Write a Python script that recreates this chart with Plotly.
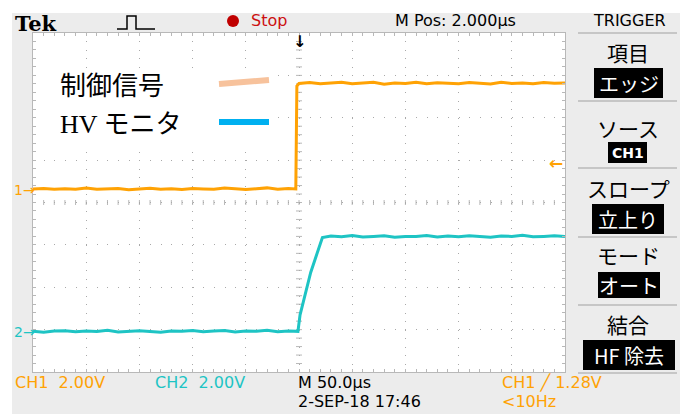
import plotly.graph_objects as go

# ---------------- data ----------------
ch1_time_us = [-250, -240, -230, -220, -210, -200, -190, -180, -170, -160,
               -150, -140, -130, -120, -110, -100, -90, -80, -70, -60,
               -50, -40, -30, -20, -10, -3, -2, 0, 10, 20,
               30, 40, 50, 60, 70, 80, 90, 100, 110, 120,
               130, 140, 150, 160, 170, 180, 190, 200, 210, 220,
               230, 240, 250]
ch1_volts = [0.04, 0.06, 0.02, 0.05, 0.03, 0.08, 0.02, 0.04, 0.06, 0.00,
             0.04, 0.07, 0.03, 0.05, 0.01, 0.06, 0.04, 0.02, 0.08, 0.04,
             0.01, 0.05, 0.09, 0.03, 0.06, 0.04, 4.90, 5.02, 5.06, 5.00,
             5.04, 5.08, 5.01, 5.03, 5.07, 4.98, 5.04, 5.02, 5.08, 5.00,
             5.05, 5.03, 5.00, 5.06, 5.04, 4.99, 5.08, 5.02, 5.04, 5.01,
             5.06, 5.03, 5.04]

ch2_time_us = [-250, -240, -230, -220, -210, -200, -190, -180, -170, -160,
               -150, -140, -130, -120, -110, -100, -90, -80, -70, -60,
               -50, -40, -30, -20, -10, -1, 1, 4, 7.5, 11,
               15, 19, 22, 30, 40, 50, 60, 70, 80, 90,
               100, 110, 120, 130, 140, 150, 160, 170, 180, 190,
               200, 210, 220, 230, 240, 250]
ch2_volts = [0.02, -0.02, 0.03, 0.05, 0.00, 0.04, 0.01, 0.07, -0.01, 0.03,
             0.05, 0.01, -0.02, 0.04, 0.02, 0.06, 0.00, 0.03, 0.06, -0.01,
             0.04, 0.02, 0.07, 0.00, 0.04, 0.02, 0.80, 1.40, 2.10, 2.80,
             3.40, 4.00, 4.45, 4.52, 4.48, 4.54, 4.47, 4.50, 4.53, 4.46,
             4.50, 4.49, 4.54, 4.47, 4.52, 4.48, 4.53, 4.49, 4.46, 4.52,
             4.50, 4.55, 4.48, 4.50, 4.53, 4.49]

ch1_volts_per_div = 2.0
ch2_volts_per_div = 2.0
ch1_ground_div = 0.30
ch2_ground_div = -3.05
trigger_level_v = 1.28
time_per_div_us = 50.0
n_xdiv = 10
n_ydiv = 8

legend_labels = ["制御信号", "HV モニタ"]
header_labels = ["Tek", "Stop", "M Pos: 2.000\u00b5s", "TRIGGER"]
bottom_labels = ["CH1  2.00V", "CH2  2.00V", "M 50.0\u00b5s", "2-SEP-18 17:46",
                 "CH1 \u2571 1.28V", "<10Hz"]
menu_titles = ["項目", "ソース", "スロープ", "モード", "結合"]
menu_values = ["エッジ", "CH1", "立上り", "オート", "HF 除去"]

# ---------------- style ----------------
W, H = 680, 414
L, R, T, B = 33, 115, 33, 42
PW, PH = W - L - R, H - T - B
ORANGE = "#FFA204"
TEAL = "#1EC4C4"
GRAYBG = "#ECECEC"
GRID = "#A9A9A9"
BORDER = "#B8B8B8"
SANS = "DejaVu Sans"
CJK = "Noto Sans CJK JP"


def px(x):
    return (x - L) / PW


def py(y):
    return (H - B - y) / PH


x_half = time_per_div_us * n_xdiv / 2
y_half = n_ydiv / 2

fig = go.Figure()
fig.add_trace(go.Scatter(
    x=ch1_time_us, y=[v / ch1_volts_per_div + ch1_ground_div for v in ch1_volts],
    mode="lines", line=dict(color=ORANGE, width=3), hoverinfo="skip", showlegend=False))
fig.add_trace(go.Scatter(
    x=ch2_time_us, y=[v / ch2_volts_per_div + ch2_ground_div for v in ch2_volts],
    mode="lines", line=dict(color=TEAL, width=3), hoverinfo="skip", showlegend=False))

shapes = []
# white outer margin (top / left)
shapes.append(dict(type="rect", xref="paper", yref="paper", x0=px(0), x1=px(W), y0=py(0), y1=py(13),
                   fillcolor="white", line=dict(width=0), layer="below"))
shapes.append(dict(type="rect", xref="paper", yref="paper", x0=px(0), x1=px(12), y0=py(0), y1=py(H),
                   fillcolor="white", line=dict(width=0), layer="below"))

# centre-line tick marks
minor_x = time_per_div_us / 5
for i in range(-n_xdiv * 5 // 2 + 1, n_xdiv * 5 // 2):
    shapes.append(dict(type="line", xref="x", yref="y", x0=i * minor_x, x1=i * minor_x,
                       ysizemode="pixel", yanchor=0, y0=-2.5, y1=2.5,
                       line=dict(color=BORDER, width=1), layer="below"))
for j in range(-n_ydiv * 5 // 2 + 1, n_ydiv * 5 // 2):
    shapes.append(dict(type="line", xref="x", yref="y", y0=j * 0.2, y1=j * 0.2,
                       xsizemode="pixel", xanchor=0, x0=-3, x1=3,
                       line=dict(color=BORDER, width=1), layer="below"))

# legend overlay box and swatches
shapes.append(dict(type="rect", xref="paper", yref="paper", x0=px(42), x1=px(277), y0=py(68), y1=py(146),
                   fillcolor="white", line=dict(width=0), layer="above"))
shapes.append(dict(type="line", xref="paper", yref="paper", x0=px(219), x1=px(269), y0=py(84), y1=py(80),
                   line=dict(color="#F7C29C", width=6), layer="above"))
shapes.append(dict(type="line", xref="paper", yref="paper", x0=px(219), x1=px(269), y0=py(122), y1=py(122),
                   line=dict(color="#00B0F0", width=6), layer="above"))

# header: pulse glyph and red stop dot
pulse = (f"M{px(117)},{py(29)} L{px(127)},{py(29)} L{px(127)},{py(16)} L{px(136)},{py(16)} "
         f"L{px(136)},{py(29)} L{px(155)},{py(29)}")
shapes.append(dict(type="path", xref="paper", yref="paper", path=pulse,
                   line=dict(color="black", width=1.5), layer="above"))
shapes.append(dict(type="circle", xref="paper", yref="paper", x0=px(227), x1=px(239), y0=py(15), y1=py(27),
                   fillcolor="#C00000", line=dict(width=0), layer="above"))

# right-hand menu separators and value boxes
for ys in [33, 101, 168, 237, 305, 373]:
    shapes.append(dict(type="line", xref="paper", yref="paper", x0=px(578), x1=px(677), y0=py(ys), y1=py(ys),
                       line=dict(color="#C6C6C6", width=2), layer="above"))
box_px = [(594, 663, 68, 98), (608, 647, 142, 163), (592, 664, 204, 234), (598, 660, 272, 298),
          (583, 675, 340, 370)]
for (bx0, bx1, by0, by1) in box_px:
    shapes.append(dict(type="rect", xref="paper", yref="paper", x0=px(bx0), x1=px(bx1), y0=py(by1), y1=py(by0),
                       fillcolor="black", line=dict(width=0), layer="above"))

ann = []


def text(x, y, s, size, color="black", family=SANS, xanchor="left", weight=None):
    f = dict(size=size, color=color, family=family)
    if weight:
        f["weight"] = weight
    ann.append(dict(x=px(x), y=py(y), xref="paper", yref="paper", text=s, showarrow=False,
                    xanchor=xanchor, yanchor="middle", font=f))


# header
text(13, 23, header_labels[0], 21, family="DejaVu Serif", weight="bold")
text(249, 21, header_labels[1], 16, color="#CC1010")
text(393, 21, header_labels[2], 16)
text(629, 21, header_labels[3], 16, xanchor="center")

# legend
text(58, 86, legend_labels[0], 26, family="Liberation Serif, " + CJK)
text(58, 124, legend_labels[1], 26, family="Liberation Serif, " + CJK)

# bottom
text(13, 382, bottom_labels[0], 16, color=ORANGE)
text(153, 382, bottom_labels[1], 16, color=TEAL)
text(296, 382, bottom_labels[2], 16)
text(296, 402, bottom_labels[3], 16)
text(500, 382, bottom_labels[4], 16, color=ORANGE)
text(500, 402, bottom_labels[5], 16, color=ORANGE)

# menu
title_y = [52, 128, 188, 255, 324]
for s, yy in zip(menu_titles, title_y):
    text(628, yy, s, 21, family=CJK, xanchor="center")
for s, (bx0, bx1, by0, by1) in zip(menu_values, box_px):
    if s == "CH1":
        text((bx0 + bx1) / 2, (by0 + by1) / 2, s, 14, color="white", family=SANS, xanchor="center", weight="bold")
    else:
        text((bx0 + bx1) / 2, (by0 + by1) / 2, s, 20, color="white", family=CJK, xanchor="center")

# channel ground markers, trigger markers (data referenced)
ann.append(dict(x=px(12), xref="paper", y=ch1_ground_div, yref="y", text="1\u2192", showarrow=False,
                xanchor="left", yanchor="middle", font=dict(size=14, color=ORANGE, family=SANS)))
ann.append(dict(x=px(12), xref="paper", y=ch2_ground_div, yref="y", text="2\u2192", showarrow=False,
                xanchor="left", yanchor="middle", font=dict(size=14, color=TEAL, family=SANS)))
ann.append(dict(x=0, xref="x", y=1, yref="paper", text="\u2193", showarrow=False,
                xanchor="center", yanchor="top", yshift=3,
                font=dict(size=16, color="black", family=SANS, weight="bold")))
ann.append(dict(x=1, xref="paper", y=ch1_ground_div + trigger_level_v / ch1_volts_per_div, yref="y",
                text="\u2190", showarrow=False, xanchor="right", yanchor="middle",
                font=dict(size=17, color=ORANGE, family=SANS, weight="bold")))

fig.update_layout(
    width=W, height=H, margin=dict(l=L, r=R, t=T, b=B, pad=0),
    paper_bgcolor=GRAYBG, plot_bgcolor="white",
    shapes=shapes, annotations=ann, showlegend=False,
    xaxis=dict(range=[-x_half, x_half], dtick=time_per_div_us, tick0=0, showgrid=True,
               gridcolor=GRID, gridwidth=1, griddash="1px,7.48px", zeroline=False,
               showline=True, linecolor=BORDER, linewidth=1, mirror="ticks",
               ticks="inside", ticklen=3, tickcolor=BORDER, showticklabels=False,
               minor=dict(dtick=time_per_div_us / 5, ticks="inside", ticklen=3, tickcolor=BORDER,
                          showgrid=False),
               fixedrange=True),
    yaxis=dict(range=[-y_half, y_half], dtick=1, tick0=0, showgrid=True,
               gridcolor=GRID, gridwidth=1, griddash="1px,9.64px", zeroline=False,
               showline=True, linecolor=BORDER, linewidth=1, mirror="ticks",
               ticks="inside", ticklen=3, tickcolor=BORDER, showticklabels=False,
               minor=dict(dtick=0.2, ticks="inside", ticklen=3, tickcolor=BORDER, showgrid=False),
               fixedrange=True),
)

fig.write_html("out.html", config=dict(displayModeBar=False),
               post_script="document.body.style.margin='0';document.body.style.padding='0';")
